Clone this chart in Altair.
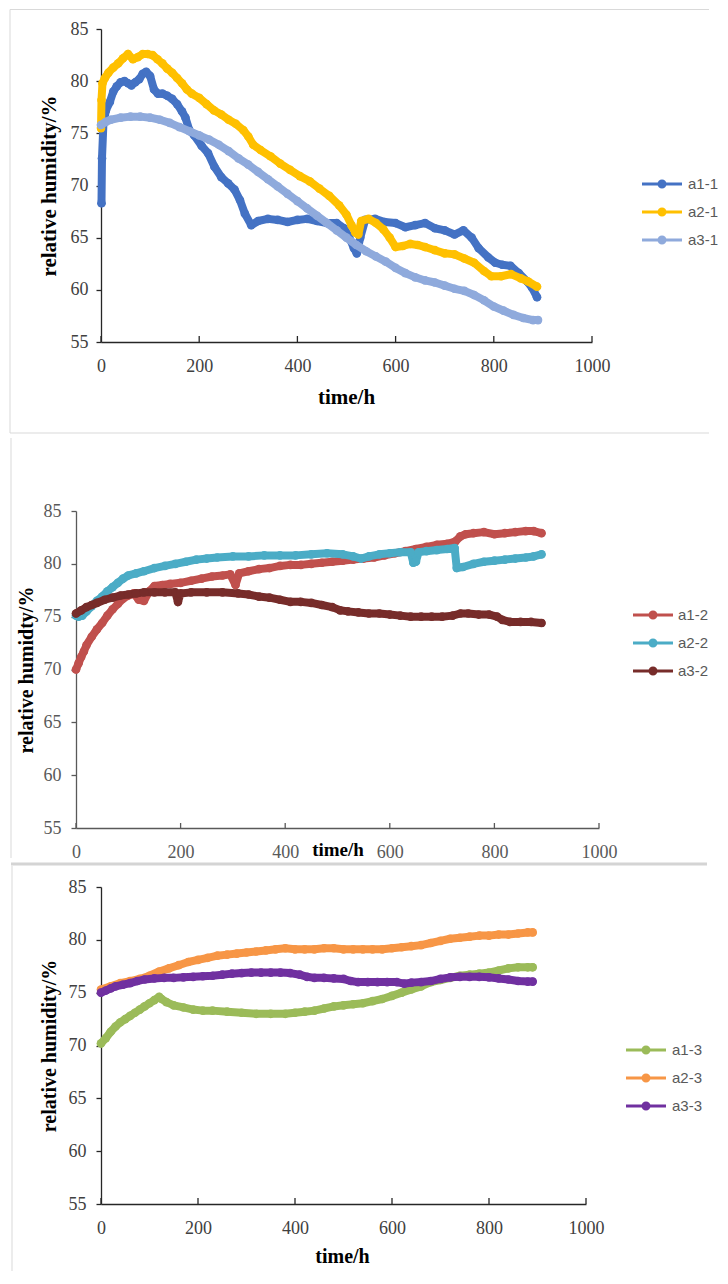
import altair as alt
import pandas as pd

X_TICKS = [0, 200, 400, 600, 800, 1000]
Y_TICKS = [55, 60, 65, 70, 75, 80, 85]

# ---------------- panel 1 ----------------
P1_SERIES = ["a1-1", "a2-1", "a3-1"]
P1_COLORS = ["#4472C4", "#FFC000", "#8FAADC"]
A11_T = [1, 2, 5, 10, 18, 25, 32, 40, 48, 55, 62, 70, 78, 85, 92, 100, 108, 116, 125, 135,
         145, 155, 165, 172, 180, 190, 205, 218, 231, 245, 259, 272, 283, 293, 306, 320, 340, 360, 380, 400,
         420, 440, 460, 480, 495, 505, 515, 521, 528, 538, 558, 578, 600, 620, 640, 660, 680, 700, 720, 738,
         755, 769, 789, 803, 817, 834, 851, 868, 878, 888]
A11_V = [68.3, 72.6, 76.0, 77.2, 78.0, 79.0, 79.5, 79.9, 80.0, 79.8, 79.6, 79.9, 80.2, 80.7, 80.9, 80.5, 79.2, 78.8, 78.8, 78.6,
         78.3, 77.8, 77.1, 76.5, 75.3, 74.8, 73.8, 73.1, 71.8, 70.8, 70.2, 69.6, 68.6, 67.3, 66.2, 66.6, 66.8, 66.7, 66.5, 66.7,
         66.8, 66.6, 66.4, 66.4, 65.9, 65.1, 64.0, 63.5, 65.0, 66.7, 66.8, 66.5, 66.4, 66.0, 66.2, 66.4, 65.9, 65.7, 65.3, 65.7,
         65.0, 64.0, 63.1, 62.6, 62.4, 62.3, 61.6, 60.8, 60.2, 59.3]
A21_T = [0, 1, 3, 8, 15, 25, 35, 45, 55, 65, 75, 85, 95, 105, 115, 125, 135, 145, 155, 165,
         175, 185, 200, 215, 230, 245, 260, 275, 290, 300, 310, 325, 345, 365, 385, 405, 425, 445, 465, 485,
         500, 510, 518, 524, 530, 545, 560, 575, 588, 600, 615, 630, 645, 660, 680, 700, 720, 740, 760, 780,
         795, 815, 835, 855, 870, 888]
A21_V = [75.5, 78.2, 79.8, 80.3, 80.8, 81.3, 81.7, 82.2, 82.6, 82.1, 82.3, 82.6, 82.6, 82.5, 82.1, 81.7, 81.2, 80.8, 80.3, 79.8,
         79.2, 78.8, 78.4, 77.8, 77.2, 76.8, 76.3, 75.9, 75.3, 74.7, 73.9, 73.4, 72.8, 72.1, 71.5, 70.9, 70.4, 69.7, 69.0, 68.1,
         67.2, 66.2, 65.5, 65.3, 66.6, 66.8, 66.4, 65.8, 65.0, 64.1, 64.2, 64.4, 64.3, 64.1, 63.8, 63.5, 63.4, 63.0, 62.6, 61.8,
         61.3, 61.3, 61.5, 61.1, 60.8, 60.3]
A31_T = [0, 10, 20, 40, 60, 80, 100, 120, 140, 160, 180, 200, 220, 240, 260, 280, 300, 320, 340, 360,
         380, 400, 420, 440, 460, 480, 500, 520, 540, 560, 580, 600, 620, 640, 660, 680, 700, 720, 740, 760,
         780, 800, 820, 840, 860, 880, 890]
A31_V = [75.8, 76.1, 76.3, 76.5, 76.6, 76.6, 76.5, 76.3, 76.0, 75.6, 75.2, 74.8, 74.4, 73.9, 73.3, 72.6, 72.0, 71.3, 70.6, 69.9,
         69.2, 68.5, 67.8, 67.1, 66.4, 65.7, 65.0, 64.3, 63.7, 63.2, 62.7, 62.1, 61.6, 61.2, 60.9, 60.7, 60.4, 60.1, 59.9, 59.5,
         59.0, 58.4, 58.0, 57.6, 57.3, 57.1, 57.1]

# ---------------- panel 2 ----------------
P2_SERIES = ["a1-2", "a2-2", "a3-2"]
P2_COLORS = ["#C0504D", "#4BACC6", "#772C2A"]
A12_T = [0, 5, 10, 15, 20, 30, 40, 50, 60, 70, 80, 90, 100, 110, 120, 130, 140, 150, 165, 180,
         200, 220, 240, 260, 280, 295, 305, 312, 330, 350, 370, 390, 410, 430, 450, 470, 490, 510, 530, 550,
         570, 590, 610, 630, 650, 670, 690, 710, 725, 735, 745, 760, 780, 800, 820, 840, 860, 875, 890]
A12_V = [70.0, 70.6, 71.2, 71.7, 72.3, 73.1, 73.8, 74.4, 75.1, 75.7, 76.2, 76.7, 77.0, 77.2, 76.6, 76.5, 77.4, 77.9, 78.0, 78.1,
         78.2, 78.4, 78.6, 78.8, 78.9, 79.0, 78.0, 79.1, 79.3, 79.5, 79.6, 79.8, 79.9, 79.9, 80.0, 80.1, 80.2, 80.3, 80.4, 80.5,
         80.6, 80.8, 81.0, 81.2, 81.4, 81.6, 81.8, 81.9, 82.1, 82.6, 82.8, 82.9, 83.0, 82.8, 82.9, 83.0, 83.1, 83.1, 82.9]
A22_T = [0, 5, 12, 20, 30, 40, 50, 60, 70, 80, 90, 100, 115, 130, 150, 170, 190, 210, 230, 250,
         270, 300, 330, 360, 390, 420, 450, 480, 510, 530, 545, 560, 580, 600, 620, 640, 645, 650, 655, 670,
         690, 710, 724, 728, 740, 760, 780, 800, 820, 840, 860, 875, 890]
A22_V = [75.1, 75.0, 75.1, 75.5, 76.0, 76.5, 76.9, 77.4, 77.8, 78.2, 78.6, 78.9, 79.1, 79.3, 79.6, 79.8, 80.0, 80.2, 80.4, 80.5,
         80.6, 80.7, 80.7, 80.8, 80.8, 80.8, 80.9, 81.0, 80.9, 80.7, 80.5, 80.7, 80.9, 81.0, 81.1, 81.1, 80.1, 80.2, 81.1, 81.2,
         81.3, 81.4, 81.5, 79.6, 79.7, 80.0, 80.2, 80.3, 80.4, 80.5, 80.6, 80.7, 80.9]
A32_T = [0, 10, 20, 30, 40, 55, 70, 85, 100, 115, 130, 150, 170, 190, 195, 200, 220, 250, 280, 310,
         330, 350, 370, 390, 410, 430, 450, 470, 490, 505, 520, 540, 560, 580, 600, 620, 640, 660, 680, 700,
         720, 735, 750, 770, 790, 805, 815, 830, 850, 870, 890]
A32_V = [75.3, 75.6, 75.9, 76.1, 76.3, 76.6, 76.8, 77.0, 77.1, 77.2, 77.3, 77.3, 77.3, 77.3, 76.4, 77.2, 77.3, 77.3, 77.3, 77.2,
         77.1, 76.9, 76.8, 76.6, 76.4, 76.4, 76.3, 76.1, 75.9, 75.6, 75.5, 75.4, 75.3, 75.3, 75.2, 75.1, 75.0, 75.0, 75.0, 75.0,
         75.1, 75.3, 75.3, 75.2, 75.2, 75.0, 74.7, 74.5, 74.5, 74.5, 74.4]

# ---------------- panel 3 ----------------
P3_SERIES = ["a1-3", "a2-3", "a3-3"]
P3_COLORS = ["#9BBB59", "#F79646", "#7030A0"]
A13_T = [0, 10, 20, 30, 40, 50, 60, 70, 80, 90, 100, 110, 120, 125, 135, 150, 170, 190, 210, 230,
         260, 290, 320, 350, 380, 400, 420, 440, 460, 480, 500, 520, 540, 560, 580, 600, 620, 640, 660, 680,
         700, 720, 740, 760, 780, 800, 820, 840, 860, 880, 890]
A13_V = [70.2, 70.7, 71.3, 71.8, 72.2, 72.5, 72.8, 73.1, 73.4, 73.7, 74.0, 74.3, 74.6, 74.4, 74.1, 73.8, 73.6, 73.4, 73.3, 73.3,
         73.2, 73.1, 73.0, 73.0, 73.0, 73.1, 73.2, 73.3, 73.5, 73.7, 73.8, 73.9, 74.0, 74.2, 74.4, 74.7, 75.0, 75.3, 75.6, 76.0,
         76.2, 76.4, 76.6, 76.7, 76.8, 76.9, 77.1, 77.3, 77.4, 77.4, 77.4]
A23_T = [0, 20, 40, 60, 80, 100, 120, 140, 160, 180, 200, 220, 240, 260, 280, 300, 320, 340, 360, 380,
         400, 420, 440, 460, 480, 500, 520, 540, 560, 580, 600, 620, 640, 660, 680, 700, 720, 740, 760, 780,
         800, 820, 840, 860, 880, 890]
A23_V = [75.3, 75.6, 75.9, 76.1, 76.3, 76.6, 77.0, 77.3, 77.6, 77.9, 78.1, 78.3, 78.5, 78.6, 78.7, 78.8, 78.9, 79.0, 79.1, 79.2,
         79.1, 79.1, 79.1, 79.2, 79.2, 79.1, 79.1, 79.1, 79.1, 79.1, 79.2, 79.3, 79.4, 79.5, 79.7, 79.9, 80.1, 80.2, 80.3, 80.4,
         80.4, 80.5, 80.5, 80.6, 80.7, 80.7]
A33_T = [0, 10, 20, 30, 45, 60, 75, 90, 110, 130, 150, 170, 190, 210, 230, 250, 270, 290, 310, 330,
         350, 370, 390, 410, 425, 440, 460, 480, 500, 515, 530, 550, 570, 590, 610, 625, 640, 660, 680, 700,
         720, 740, 760, 780, 800, 820, 840, 860, 880, 890]
A33_V = [75.0, 75.2, 75.4, 75.6, 75.75, 75.9, 76.1, 76.25, 76.35, 76.4, 76.4, 76.45, 76.5, 76.55, 76.6, 76.7, 76.8, 76.85, 76.9, 76.9,
         76.9, 76.9, 76.85, 76.7, 76.5, 76.4, 76.4, 76.35, 76.3, 76.1, 76.0, 76.0, 76.0, 76.0, 76.0, 75.85, 75.95, 76.0, 76.1, 76.3,
         76.45, 76.5, 76.5, 76.5, 76.45, 76.35, 76.25, 76.1, 76.05, 76.05]

SERIF = "Liberation Serif, Times New Roman, serif"
SANS = "Liberation Sans, Arial, sans-serif"
# legend glyph: short line with a filled dot (drawn with stroke only)
LEGEND_PATH = ("M-1.29,0L1.29,0"
               "M-0.194,0A0.194,0.194,0,1,1,0.194,0A0.194,0.194,0,1,1,-0.194,0"
               "M-0.052,0A0.052,0.052,0,1,1,0.052,0A0.052,0.052,0,1,1,-0.052,0")

ONE = pd.DataFrame({"k": [0]})


def deco_rule(x1, x2, y1, y2, color="#d9d9d9", width=1.0, invisible=False):
    if invisible:
        m = alt.Chart(ONE).mark_rule(opacity=0, strokeOpacity=0)
    else:
        m = alt.Chart(ONE).mark_rule(color=color, strokeWidth=width)
    return m.encode(x=alt.value(x1), x2=alt.value(x2), y=alt.value(y1), y2=alt.value(y2))


def panel(series, colors, times, values, g):
    rows = []
    for s, ts, vs in zip(series, times, values):
        for t, v in zip(ts, vs):
            rows.append({"series": s, "t": t, "rh": v})
    df = pd.DataFrame(rows)
    w, h = g["w"], g["h"]
    xs = alt.Scale(domain=[0, 1000], nice=False, zero=False, range=[g["x0"], w])
    ys = alt.Scale(domain=[55, 85], nice=False, zero=False)
    xaxis = alt.Axis(values=X_TICKS, format="d", title="time/h", grid=False, ticks=False, tickSize=0,
                     labelFlush=False, labelOverlap=False,
                     labelFont=SERIF, labelFontSize=18, labelColor=g["lab_color"], labelPadding=15,
                     domainColor=g["axis_color"], domainWidth=1.3,
                     titleFont=SERIF, titleFontSize=g["xt_size"], titleFontWeight="bold", titleColor="#000000",
                     titleX=g["xt_x"], titleY=g["xt_y"], titleAlign="center", titleBaseline="alphabetic")
    yaxis = alt.Axis(values=Y_TICKS, format="d", title=g["ytitle"], grid=False, tickSize=5,
                     tickColor=g["axis_color"], offset=-g["x0"],
                     tickWidth=1.3, labelFont=SERIF, labelFontSize=18, labelColor=g["lab_color"],
                     labelPadding=g["ylab_pad"], domainColor=g["axis_color"], domainWidth=1.3,
                     titleFont=SERIF, titleFontSize=g["yt_size"], titleFontWeight="bold", titleColor="#000000",
                     titleAngle=270, titleX=g["yt_x"], titleY=h / 2, titleAlign="center",
                     titleBaseline="alphabetic")
    x = alt.X("t:Q", scale=xs, axis=xaxis)
    y = alt.Y("rh:Q", scale=ys, axis=yaxis)

    legend = alt.Legend(title=None, orient="none", legendX=g["lx"], legendY=g["ly"], direction="vertical",
                        symbolType=LEGEND_PATH, symbolSize=961, symbolStrokeWidth=3, symbolOpacity=1,
                        labelFont=SANS, labelFontSize=15, labelColor="#595959", labelOffset=g["loff"],
                        labelLimit=60, rowPadding=1, padding=0)
    base = alt.Chart(df)
    legend_line = base.mark_line(strokeWidth=3).encode(
        x=x, y=y,
        color=alt.Color("series:N", scale=alt.Scale(domain=series, range=colors), legend=legend))
    stroke = alt.Stroke("series:N", scale=alt.Scale(domain=series, range=colors), legend=None)
    fill = alt.Fill("series:N", scale=alt.Scale(domain=series, range=colors), legend=None)
    series_layers = []
    for s in series:
        sub = base.transform_filter(alt.datum.series == s)
        series_layers.append(
            sub.mark_line(strokeWidth=8, strokeJoin="round", strokeCap="round").encode(x=x, y=y, stroke=stroke))
        series_layers.append(sub.mark_circle(size=75, opacity=1).encode(x=x, y=y, fill=fill))
    ticks = alt.Chart(pd.DataFrame({"t": X_TICKS})).mark_rule(
        color=g["axis_color"], strokeWidth=1.3).encode(
        x=x, y=alt.value(h - g["tick_len"]), y2=alt.value(h))

    a = g["anchor"]
    layers = [deco_rule(a[0], a[1], a[2], a[3], invisible=True)]
    for f in g["frames"]:
        layers.append(deco_rule(*f))
    layers += [ticks, legend_line] + series_layers
    return alt.layer(*layers).properties(width=w, height=h)


# every panel's plot area starts at page x = 101; panel 2 draws its axes 25 px further left
G1 = dict(w=491, h=313, x0=0, ytitle="relative humidity/%", xt_x=245, xt_y=61, xt_size=21, yt_x=-46,
          yt_size=21, ylab_pad=8, axis_color="#262626", lab_color="#404040", tick_len=6,
          lx=544, ly=138, loff=9, anchor=(-93, 610, -21, 407),
          frames=[(-91, -91, -19.5, 404), (-91, 608, -19.5, -19.5), (-91, 608, 404, 404)])
G2 = dict(w=498, h=317, x0=-25, ytitle="relative humidty/%", xt_x=236.5, xt_y=27, xt_size=19, yt_x=-44,
          yt_size=20, ylab_pad=10, axis_color="#595959", lab_color="#595959", tick_len=5,
          lx=535, ly=87, loff=8, anchor=(-93, 610, -75, 349),
          frames=[(-90, -90, -73, 347)])
G3 = dict(w=485, h=317, x0=0, ytitle="relative humidity/%", xt_x=241, xt_y=58.5, xt_size=20, yt_x=-46,
          yt_size=20, ylab_pad=10, axis_color="#262626", lab_color="#404040", tick_len=6,
          lx=528, ly=146, loff=9, anchor=(-93, 610, -26, 386),
          frames=[(-90, 606, -23, -23, "#d4d4d4", 3), (-89, -89, -21, 384)])

p1 = panel(P1_SERIES, P1_COLORS, [A11_T, A21_T, A31_T], [A11_V, A21_V, A31_V], G1)
p2 = panel(P2_SERIES, P2_COLORS, [A12_T, A22_T, A32_T], [A12_V, A22_V, A32_V], G2)
p3 = panel(P3_SERIES, P3_COLORS, [A13_T, A23_T, A33_T], [A13_V, A23_V, A33_V], G3)

chart = alt.vconcat(p1, p2, p3, spacing=0, padding=0).resolve_scale(
    color="independent", stroke="independent", fill="independent", x="independent", y="independent"
).configure(background="white").configure_view(stroke=None)

chart.save("out.html", embed_options={"renderer": "svg", "actions": False})
